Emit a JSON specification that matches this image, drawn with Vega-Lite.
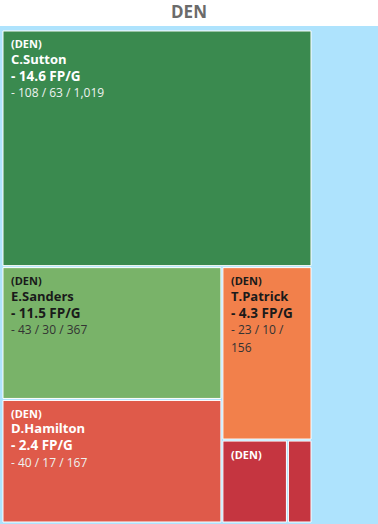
{
  "$schema": "https://vega.github.io/schema/vega-lite/v6.json",
  "width": 378,
  "height": 499,
  "padding": {"top": 4, "left": 0, "right": 0, "bottom": 0},
  "background": "white",
  "title": {"text": "DEN", "fontSize": 17, "fontWeight": "bold", "color": "#6b6b6b", "font": "Open Sans", "anchor": "middle", "frame": "group", "offset": 4},
  "config": {"view": {"stroke": null, "fill": "#aee3fd"}},
  "data": {"values": [
    {"team": "DEN", "player": "C.Sutton", "fpg": 14.6, "tgt": 108, "rec": 63, "yds": 1019, "band": 1, "col": 1, "sub": 1, "ord": 1},
    {"team": "DEN", "player": "E.Sanders", "fpg": 11.5, "tgt": 43, "rec": 30, "yds": 367, "band": 2, "col": 1, "sub": 1, "ord": 1},
    {"team": "DEN", "player": "D.Hamilton", "fpg": 2.4, "tgt": 40, "rec": 17, "yds": 167, "band": 2, "col": 1, "sub": 2, "ord": 1},
    {"team": "DEN", "player": "T.Patrick", "fpg": 4.3, "tgt": 23, "rec": 10, "yds": 156, "band": 2, "col": 2, "sub": 1, "ord": 1},
    {"team": "DEN", "player": "", "fpg": 1.2, "tgt": 8, "rec": null, "yds": null, "band": 2, "col": 2, "sub": 2, "ord": 1},
    {"team": "DEN", "player": "", "fpg": 0.6, "tgt": 3, "rec": null, "yds": null, "band": 2, "col": 2, "sub": 2, "ord": 2}
  ]},
  "transform": [
    {"joinaggregate": [{"op": "sum", "field": "tgt", "as": "total"}]},
    {"joinaggregate": [{"op": "sum", "field": "tgt", "as": "bandT"}], "groupby": ["band"]},
    {"joinaggregate": [{"op": "sum", "field": "tgt", "as": "colT"}], "groupby": ["band", "col"]},
    {"joinaggregate": [{"op": "sum", "field": "tgt", "as": "subT"}], "groupby": ["band", "col", "sub"]},
    {"window": [{"op": "sum", "field": "tgt", "as": "cum"}], "groupby": ["band", "col", "sub"], "sort": [{"field": "ord"}], "frame": [null, 0]},
    {"calculate": "datum.band == 1 ? 0 : 1 - datum.bandT / datum.total", "as": "by0"},
    {"calculate": "datum.band == 1 ? datum.bandT / datum.total : 1", "as": "by1"},
    {"calculate": "datum.col == 1 ? 0 : 1 - datum.colT / datum.bandT", "as": "cx0"},
    {"calculate": "datum.col == 1 ? datum.colT / datum.bandT : 1", "as": "cx1"},
    {"calculate": "datum.sub == 1 ? datum.by0 : datum.by1 - (datum.by1 - datum.by0) * datum.subT / datum.colT", "as": "y0"},
    {"calculate": "datum.sub == 1 ? datum.by0 + (datum.by1 - datum.by0) * datum.subT / datum.colT : datum.by1", "as": "y1"},
    {"calculate": "datum.cx0 + (datum.cx1 - datum.cx0) * (datum.cum - datum.tgt) / datum.subT", "as": "x0"},
    {"calculate": "datum.cx0 + (datum.cx1 - datum.cx0) * datum.cum / datum.subT", "as": "x1"},
    {"calculate": "(datum.x1 - datum.x0) > 0.12 ? '(' + datum.team + ')' : ''", "as": "teamLabel"},
    {"calculate": "(datum.x1 - datum.x0) > 0.25 ? datum.player : ''", "as": "nameLabel"},
    {"calculate": "(datum.x1 - datum.x0) > 0.25 ? '- ' + format(datum.fpg, '.1f') + ' FP/G' : ''", "as": "fpgLabel"},
    {"calculate": "(datum.x1 - datum.x0) > 0.25 ? ((datum.x1 - datum.x0) < 0.4 ? '- ' + datum.tgt + ' / ' + datum.rec + ' /\\n' + format(datum.yds, ',') : '- ' + datum.tgt + ' / ' + datum.rec + ' / ' + format(datum.yds, ',')) : ''", "as": "statLabel"},
    {"calculate": "datum.fpg > 3 && datum.fpg < 13", "as": "darkText"}
  ],
  "encoding": {
    "x": {"field": "x0", "type": "quantitative", "scale": {"domain": [-0.00645, 1.2129], "nice": false, "zero": false}, "axis": null},
    "y": {"field": "y0", "type": "quantitative", "scale": {"domain": [-0.00811, 1.00406], "nice": false, "zero": false, "reverse": true}, "axis": null}
  },
  "layer": [
    {
      "mark": {"type": "rect", "stroke": "white", "strokeWidth": 1, "xOffset": 1, "x2Offset": -1, "yOffset": 1, "y2Offset": -1},
      "encoding": {
        "x2": {"field": "x1"},
        "y2": {"field": "y1"},
        "color": {"field": "fpg", "type": "quantitative", "scale": {"type": "threshold", "domain": [2, 3, 8, 13], "range": ["#c53540", "#df5a4a", "#f2804b", "#79b369", "#3a8a4f"]}, "legend": null}
      }
    },
    {
      "mark": {"type": "text", "align": "left", "baseline": "alphabetic", "dx": 9, "dy": 18.5, "font": "Open Sans", "fontSize": 11, "fontWeight": "bold"},
      "encoding": {
        "text": {"field": "teamLabel"},
        "color": {"condition": {"test": "datum.darkText", "value": "#1a1a1a"}, "value": "white"}
      }
    },
    {
      "mark": {"type": "text", "align": "left", "baseline": "alphabetic", "dx": 9, "dy": 34, "font": "Open Sans", "fontSize": 13, "fontWeight": "bold"},
      "encoding": {
        "text": {"field": "nameLabel"},
        "color": {"condition": {"test": "datum.darkText", "value": "#1a1a1a"}, "value": "white"}
      }
    },
    {
      "mark": {"type": "text", "align": "left", "baseline": "alphabetic", "dx": 9, "dy": 51, "font": "Open Sans", "fontSize": 13.5, "fontWeight": "bold"},
      "encoding": {
        "text": {"field": "fpgLabel"},
        "color": {"condition": {"test": "datum.darkText", "value": "#1a1a1a"}, "value": "white"}
      }
    },
    {
      "mark": {"type": "text", "align": "left", "baseline": "alphabetic", "dx": 9, "dy": 67.5, "font": "Open Sans", "fontSize": 12, "lineBreak": "\n", "lineHeight": 17.5},
      "encoding": {
        "text": {"field": "statLabel"},
        "color": {"condition": {"test": "datum.darkText", "value": "#333333"}, "value": "#eef2ef"}
      }
    }
  ]
}
